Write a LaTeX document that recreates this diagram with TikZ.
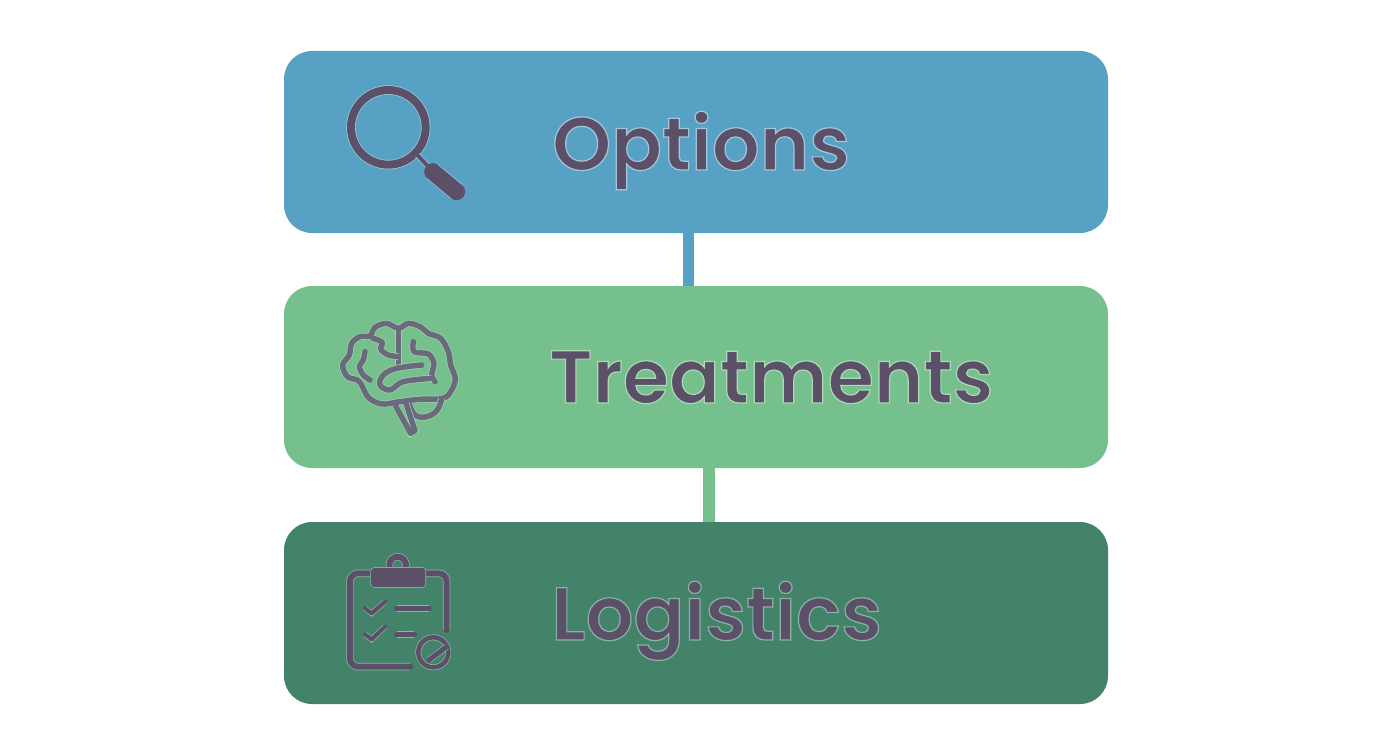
\documentclass[tikz,border=0pt]{standalone}
\usepackage{fontspec}
\setmainfont{Poppins}[UprightFont=* SemiBold]
\definecolor{bluebox}{HTML}{56A1C4}
\definecolor{greenbox}{HTML}{75C08C}
\definecolor{darkbox}{HTML}{42836A}
\definecolor{ink}{HTML}{5C5068}
\definecolor{brainink}{HTML}{6A6A7C}
\newcommand{\outlined}[2]{\special{pdf:code 2 Tr #1 RG 1.2 w}#2\special{pdf:code 0 Tr}}
\tikzset{
  panel/.style={rounded corners=28pt,minimum width=824pt,minimum height=182pt,inner sep=0pt,fill=#1},
  link/.style={line width=11.5pt,draw=#1},
  label/.style={anchor=base west,inner sep=0pt,text=ink,font=\fontsize{75}{75}\selectfont},
  iconline/.style n args={3}{preaction={draw=#3,line width=#2+1.4pt},draw=#1,line width=#2,line cap=round,line join=round},
}
\begin{document}
\begin{tikzpicture}[x=1pt,y=-1pt]
\useasboundingbox[fill=white] (0,0) rectangle (1392,752);
\node[panel=bluebox] (options) at (696,142) {};
\node[panel=greenbox] (treatments) at (696,377) {};
\node[panel=darkbox] (logistics) at (696,613) {};
\coordinate (la) at (688.5,0);
\coordinate (lb) at (709,0);
\draw[link=bluebox] (options.south -| la) -- (treatments.north -| la);
\draw[link=greenbox] (treatments.south -| lb) -- (logistics.north -| lb);
\node[label] (t1) at (552,170) {\outlined{0.65 0.78 0.85}{Options}};
\node[label] (t2) at (549,403) {\outlined{0.68 0.85 0.72}{Treatments}};
\node[label] (t3) at (551,640) {\outlined{0.55 0.70 0.65}{Logistics}};
% magnifier
\begin{scope}[shift={(320,70)},x=0.3333pt,y=-0.3333pt]
\draw[iconline={ink}{8pt}{bluebox!55!white}] (205,172) circle (112);
\draw[iconline={ink}{4pt}{bluebox!55!white}] (292,255) -- (325,290);
\draw[iconline={ink}{17pt}{bluebox!55!white}] (338,305) -- (410,365);
\end{scope}
% brain
\begin{scope}[shift={(320,310)},x=0.3333pt,y=-0.3333pt]
\tikzset{bl/.style={iconline={brainink}{5.5pt}{greenbox!70!white}}}
\draw[bl] plot[smooth cycle,tension=0.55] coordinates {(145,262) (125,225) (112,210) (82,200) (68,165) (88,135) (95,100) (120,80) (150,78) (165,52) (200,40) (235,55) (265,40) (300,50) (325,70) (362,85) (385,125) (392,165) (406,205) (395,240) (370,265) (300,268) (240,275) (185,282)};
\draw[bl] (235,60) -- (235,170);
\draw[bl] plot[smooth,tension=0.5] coordinates {(160,85) (187,97) (182,118) (205,135) (235,140)};
\draw[bl] plot[smooth,tension=0.5] coordinates {(280,95) (282,125) (325,132) (342,160) (335,195) (345,215)};
\draw[bl] plot[smooth,tension=0.6] coordinates {(305,165) (230,175) (190,195) (180,225) (210,240) (250,215) (335,205)};
\draw[bl] plot[smooth,tension=0.6] coordinates {(135,125) (130,150) (118,170) (130,195) (150,210)};
\draw[bl] plot[smooth,tension=0.7] coordinates {(268,280) (285,315) (320,320) (352,300) (365,265)};
\draw[bl] (228,290) -- (272,370) -- (285,362) -- (258,280);
\end{scope}
% clipboard
\begin{scope}[shift={(325,545)},x=0.3333pt,y=-0.3333pt]
\tikzset{cl/.style={iconline={ink}{#1}{darkbox!60!white}}}
\draw[cl=6pt,rounded corners=8pt] (135,85) -- (75,85) -- (75,365) -- (255,365);
\draw[cl=6pt,rounded corners=8pt] (300,85) -- (365,85) -- (365,255);
\draw[cl=6pt] (218,60) circle (25);
\draw[cl=1pt,fill=ink,rounded corners=3pt] (140,70) rectangle (300,125);
\draw[cl=4pt] (120,190) -- (140,205) -- (180,170);
\draw[cl=5.5pt] (215,190) -- (312,190);
\draw[cl=4pt] (120,268) -- (140,283) -- (180,245);
\draw[cl=5.5pt] (215,268) -- (268,268);
\draw[cl=4.5pt] (325,322) circle (45);
\draw[cl=5pt] (312,345) -- (365,305);
\end{scope}
\end{tikzpicture}
\end{document}
